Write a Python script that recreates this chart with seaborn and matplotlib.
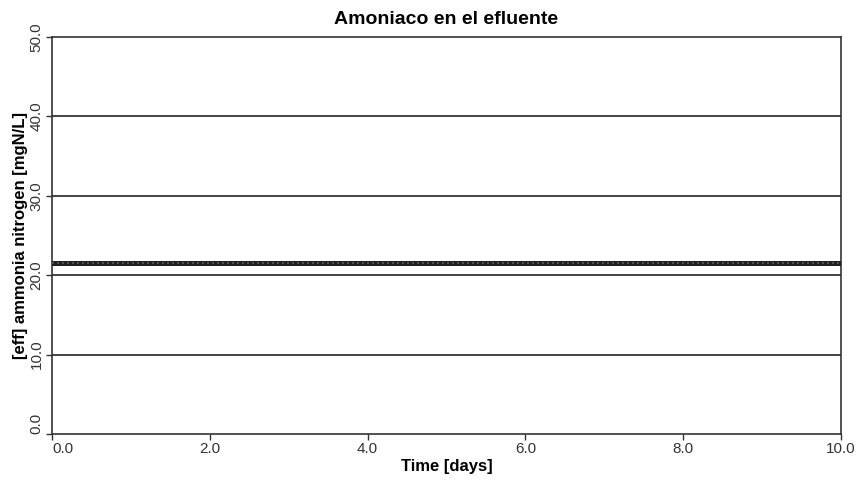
import matplotlib
matplotlib.use("Agg")
import matplotlib.pyplot as plt
import seaborn as sns
import pandas as pd

# Simulated effluent ammonia, sampled daily
time_days = [0.0, 1.0, 2.0, 3.0, 4.0, 5.0, 6.0, 7.0, 8.0, 9.0, 10.0]
ammonia_mgNL = [21.5, 21.5, 21.5, 21.5, 21.5, 21.5, 21.5, 21.5, 21.5, 21.5, 21.5]

x_ticks = [0.0, 2.0, 4.0, 6.0, 8.0, 10.0]
y_ticks = [0.0, 10.0, 20.0, 30.0, 40.0, 50.0]

df = pd.DataFrame({"time": time_days, "nh": ammonia_mgNL})

sns.set_theme(style="white")
plt.rcParams["font.family"] = ["Liberation Sans", "DejaVu Sans"]

fig = plt.figure(figsize=(8.6, 4.83), dpi=100)
ax = fig.add_axes([52 / 860, 1 - 434 / 483, (841 - 52) / 860, (434 - 37) / 483])

sns.lineplot(data=df, x="time", y="nh", ax=ax, color="#202020", linewidth=3.6, zorder=3)
ax.plot(df["time"], df["nh"], color="#5a5a5a", linewidth=1.2,
        linestyle=(0, (1.2, 1.8)), zorder=4)

ax.set_xlim(0, 10)
ax.set_ylim(0, 50)
ax.set_xticks(x_ticks)
ax.set_yticks(y_ticks)
xlabels = ax.set_xticklabels([f"{v:.1f}" for v in x_ticks], fontsize=11, color="#333333")
ylabels = ax.set_yticklabels([f"{v:.1f}" for v in y_ticks], fontsize=11, color="#333333",
                             rotation=90, va="center")
# keep the origin labels clear of each other
xlabels[0].set_ha("left")
ylabels[0].set_va("bottom")

for v in y_ticks[1:-1]:
    ax.axhline(v, color="#111111", linewidth=1.1, zorder=1)

for s in ax.spines.values():
    s.set_color("#333333")
    s.set_linewidth(1.2)

ax.tick_params(axis="both", direction="out", length=4, width=1, color="#333333",
               left=True, bottom=True, pad=2)

ax.set_title("Amoniaco en el efluente", fontsize=14, fontweight="bold", pad=9, color="black")
ax.set_xlabel("Time [days]", fontsize=12, fontweight="bold", labelpad=2, color="black")
ax.set_ylabel("[eff] ammonia nitrogen [mgN/L]", fontsize=12, fontweight="bold",
              labelpad=1, color="black")

fig.savefig("out.png", dpi=100, facecolor="white")
